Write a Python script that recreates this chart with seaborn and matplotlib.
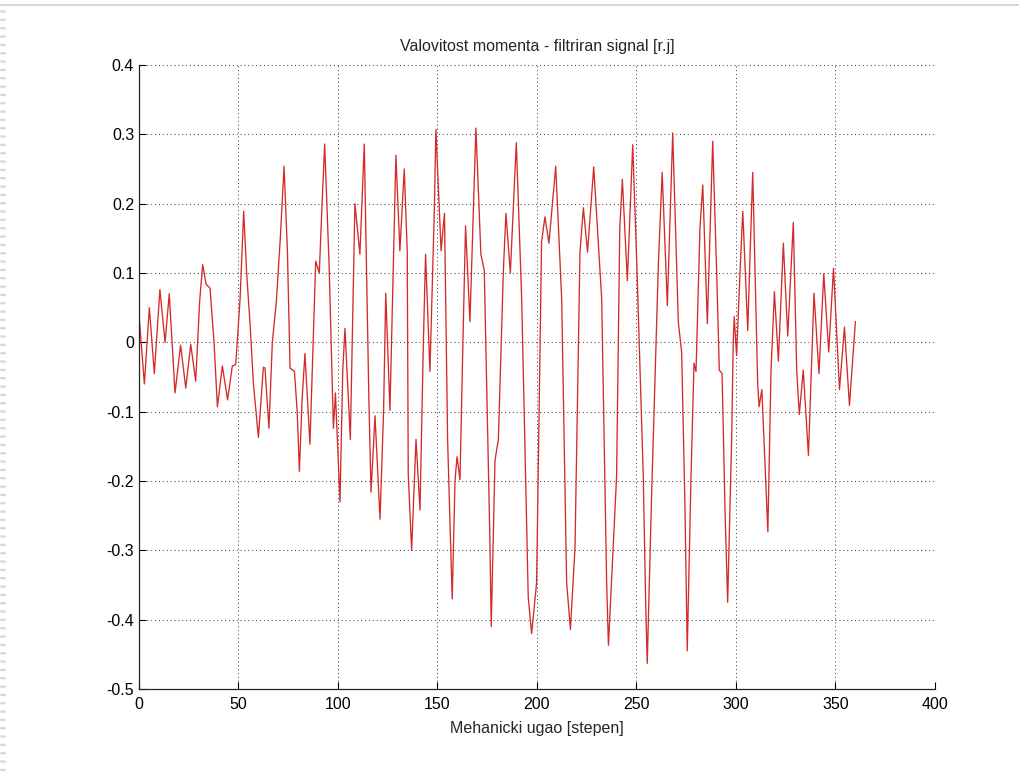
import matplotlib
matplotlib.use("Agg")
import matplotlib.pyplot as plt
from matplotlib.lines import Line2D
import seaborn as sns
import pandas as pd

# Mechanical angle [deg] and filtered torque ripple [r.j]
angle = [
    0, 2.7, 5.2, 7.7, 10.5, 13.1, 15.2, 18.1, 20.9, 23.5, 26.0, 28.5, 30.5, 32.0, 33.7,
    35.7, 37.7, 39.4, 41.9, 44.5, 46.9, 48.6, 50.8, 52.6, 54.1, 55.8, 57.5, 60.0, 62.5,
    63.3, 65.3, 67.0, 69.0, 71.0, 72.9, 74.6, 75.9, 78.1, 79.5, 80.6, 82.0, 83.4, 85.9,
    87.5, 88.8, 90.6, 92.0, 93.3, 95.5, 97.7, 98.7, 101.0, 102.4, 103.5, 106.2, 107.5,
    108.5, 111.0, 113.2, 115.5, 116.6, 118.6, 121.1, 122.9, 124.0, 126.1, 127.8, 129.1,
    131.1, 133.3, 134.8, 135.3, 137.0, 139.2, 141.2, 142.9, 144.0, 146.2, 148.4, 149.2,
    151.8, 153.5, 155.1, 157.4, 158.8, 159.8, 161.3, 163.0, 164.1, 166.3, 167.7, 169.3,
    171.8, 173.5, 176.3, 177.0, 178.9, 180.6, 183.1, 184.4, 186.6, 189.6, 192.3, 195.6,
    197.3, 199.8, 202.3, 204.0, 206.0, 209.4, 212.4, 214.9, 216.8, 219.1, 221.6, 223.3,
    225.4, 228.5, 232.5, 235.0, 235.9, 240.0, 241.6, 242.9, 245.4, 248.1, 250.2, 253.4,
    254.6, 255.4, 257.6, 261.0, 262.9, 265.5, 268.2, 271.0, 272.7, 274.4, 275.5, 277.4,
    278.9, 279.9, 281.9, 283.3, 285.6, 288.3, 290.4, 291.6, 293.0, 294.5, 295.8, 297.8,
    298.6, 299.1, 300.3, 302.0, 303.4, 305.9, 307.0, 308.4, 309.9, 310.9, 311.6, 313.0,
    316.0, 317.6, 319.3, 321.3, 323.8, 326.0, 328.8, 330.5, 331.8, 333.8, 336.4, 339.2,
    341.7, 344.1, 346.6, 349.0, 352.0, 354.5, 357.0, 360.0,
]
ripple = [
    0.04, -0.06, 0.05, -0.045, 0.076, 0.0, 0.07, -0.073, -0.004, -0.066, -0.003, -0.056,
    0.06, 0.112, 0.084, 0.078, 0.0, -0.093, -0.034, -0.083, -0.034, -0.032, 0.063, 0.189,
    0.10, 0.027, -0.06, -0.137, -0.036, -0.037, -0.124, 0.0, 0.058, 0.15, 0.254, 0.13,
    -0.037, -0.042, -0.10, -0.186, -0.08, -0.016, -0.147, 0.0, 0.117, 0.10, 0.20, 0.286,
    0.114, -0.124, -0.073, -0.23, -0.04, 0.02, -0.14, 0.05, 0.20, 0.127, 0.286, -0.08,
    -0.216, -0.106, -0.255, -0.10, 0.071, -0.098, 0.114, 0.27, 0.132, 0.25, 0.13, -0.19,
    -0.30, -0.14, -0.242, 0.0, 0.127, -0.042, 0.19, 0.307, 0.132, 0.186, -0.143, -0.37,
    -0.20, -0.165, -0.198, 0.03, 0.168, 0.03, 0.16, 0.309, 0.127, 0.104, -0.28, -0.41,
    -0.17, -0.14, 0.104, 0.186, 0.10, 0.288, 0.063, -0.368, -0.42, -0.347, 0.145, 0.181,
    0.143, 0.254, 0.063, -0.347, -0.414, -0.296, 0.13, 0.194, 0.13, 0.253, 0.063, -0.347,
    -0.437, -0.193, 0.165, 0.235, 0.089, 0.285, 0.109, -0.193, -0.374, -0.463, -0.219,
    0.114, 0.245, 0.053, 0.302, 0.03, -0.015, -0.245, -0.445, -0.193, -0.03, -0.042,
    0.165, 0.227, 0.027, 0.29, 0.089, -0.04, -0.045, -0.245, -0.375, -0.142, 0.0, 0.037,
    -0.019, 0.10, 0.189, 0.017, 0.12, 0.245, 0.063, -0.06, -0.093, -0.068, -0.273, -0.04,
    0.073, -0.027, 0.143, 0.009, 0.173, -0.04, -0.104, -0.04, -0.163, 0.071, -0.045,
    0.099, -0.014, 0.107, -0.068, 0.022, -0.091, 0.03,
]
x_ticks = [0, 50, 100, 150, 200, 250, 300, 350, 400]
y_ticks = [-0.5, -0.4, -0.3, -0.2, -0.1, 0, 0.1, 0.2, 0.3, 0.4]
y_tick_labels = ["-0.5", "-0.4", "-0.3", "-0.2", "-0.1", "0", "0.1", "0.2", "0.3", "0.4"]

sns.set_style("white")
plt.rcParams["font.family"] = ["Liberation Sans", "DejaVu Sans"]

df = pd.DataFrame({"angle": angle, "ripple": ripple})

fig = plt.figure(figsize=(10.2, 7.71), dpi=100)
ax = fig.add_axes([139 / 1020, 1 - 689 / 771, (935 - 139) / 1020, (689 - 65) / 771])

sns.lineplot(data=df, x="angle", y="ripple", sort=False, estimator=None,
             color="#d42a2a", linewidth=0.95, ax=ax)

ax.set_xlim(0, 400)
ax.set_ylim(-0.5, 0.4)
ax.set_xticks(x_ticks)
ax.set_yticks(y_ticks)
ax.set_yticklabels(y_tick_labels)
ax.grid(True, linestyle=(0, (1, 3)), color="#333333", linewidth=0.7)
ax.tick_params(direction="in", length=5, width=0.8, labelsize=11.5, colors="black",
               top=False, right=False, left=True, bottom=True)
ax.tick_params(axis="x", pad=6)
for side in ["top", "right"]:
    ax.spines[side].set_visible(False)
for side in ["left", "bottom"]:
    ax.spines[side].set_color("#222222")
    ax.spines[side].set_linewidth(0.9)

ax.set_title("Valovitost momenta - filtriran signal [r.j]", fontsize=11.5, pad=10)
ax.set_xlabel("Mehanicki ugao [stepen]", fontsize=11.5, labelpad=6)
ax.set_ylabel("")

# page decorations: thin top rule and dashed left margin
fig.add_artist(Line2D([0, 1], [1 - 5 / 771, 1 - 5 / 771], transform=fig.transFigure,
                      color="#d8d8d8", linewidth=1.5))
fig.add_artist(Line2D([3 / 1020, 3 / 1020], [0, 1 - 8 / 771], transform=fig.transFigure,
                      color="#d8d8d8", linewidth=4, linestyle=(0, (0.4, 1.1))))

fig.savefig("out.png", dpi=100)
